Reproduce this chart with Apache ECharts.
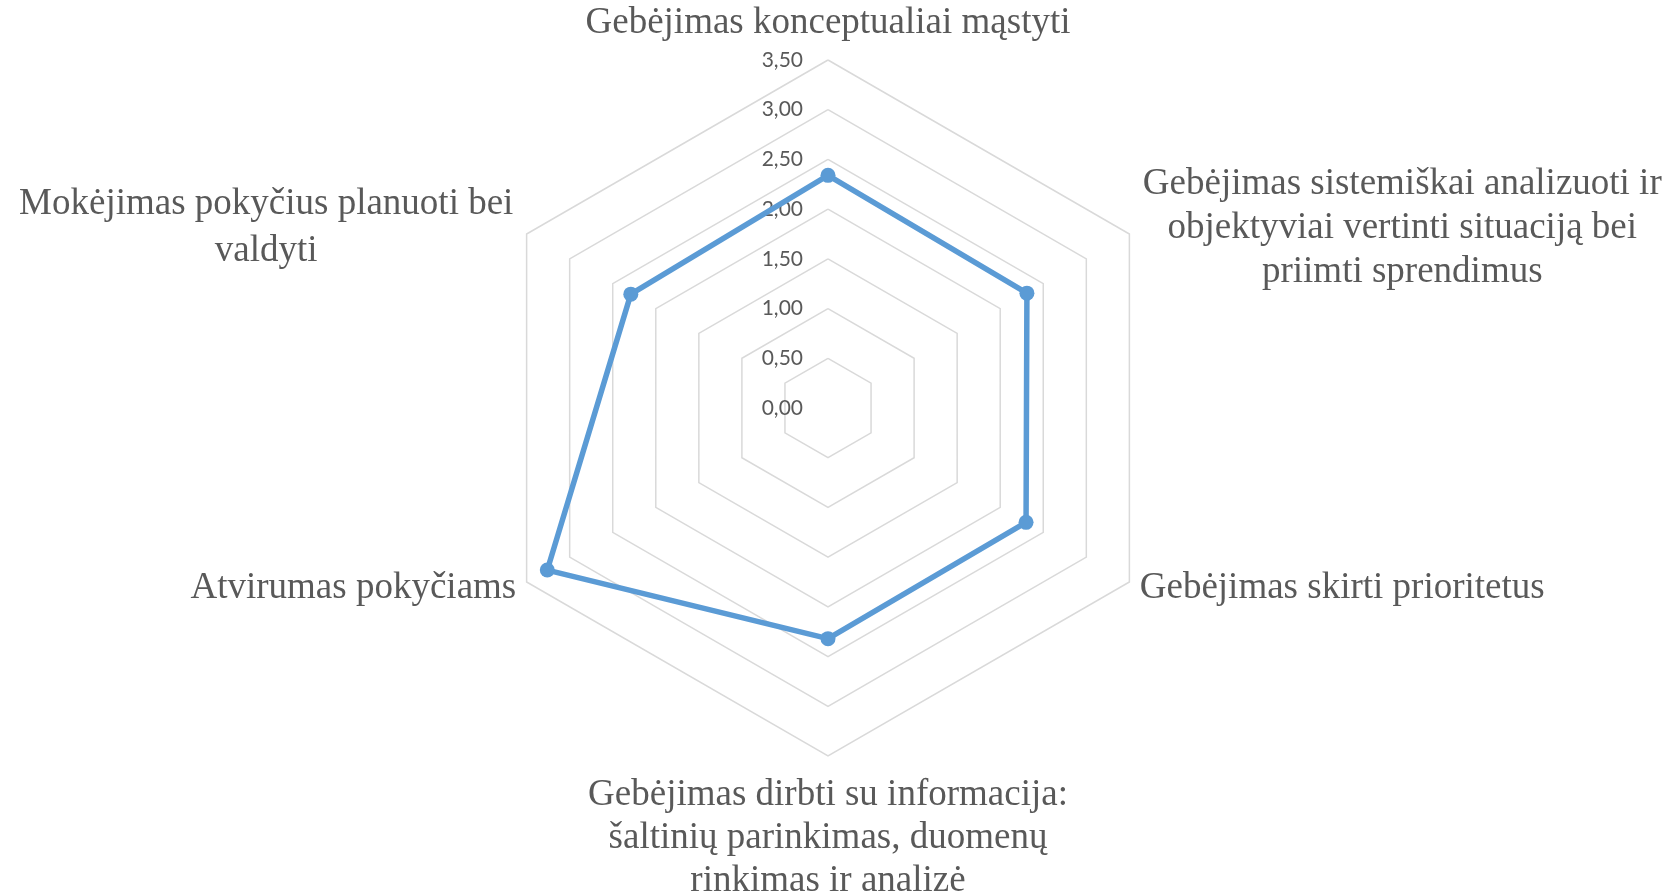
<!DOCTYPE html>
<html>
<head>
<meta charset="utf-8">
<script src="https://cdn.jsdelivr.net/npm/echarts@6/dist/echarts.min.js"></script>
<style>
html,body{margin:0;padding:0;background:#fff;}
#chart{width:1675px;height:893px;}
</style>
</head>
<body>
<div id="chart"></div>
<script>
// Categories in the reference's clockwise order, starting at the top
const categories = [
  'Gebėjimas konceptualiai mąstyti',
  'Gebėjimas sistemiškai analizuoti ir\nobjektyviai vertinti situaciją bei\npriimti sprendimus',
  'Gebėjimas skirti prioritetus',
  'Gebėjimas dirbti su informacija:\nšaltinių parinkimas, duomenų\nrinkimas ir analizė',
  'Atvirumas pokyčiams',
  'Mokėjimas pokyčius planuoti bei\nvaldyti'
];
const values = [2.34, 2.31, 2.30, 2.32, 3.26, 2.29];
const axisMax = 3.5;
const axisSplit = 7;

// ECharts places indicators counter-clockwise; reorder so the picture goes clockwise
const order = [0, 5, 4, 3, 2, 1];
const indicator = order.map(function (i) {
  const ind = { name: categories[i], min: 0, max: axisMax };
  if (i === 0) {
    ind.axisLabel = { show: true };
    ind.nameGap = 15;
  }
  if (i === 3) ind.nameGap = 18;
  return ind;
});
const seriesData = order.map(function (i) { return values[i]; });

const chart = echarts.init(document.getElementById('chart'), null, { renderer: 'canvas' });
chart.setOption({
  backgroundColor: '#ffffff',
  animation: false,
  radar: {
    center: [828, 408],
    radius: 348,
    startAngle: 90,
    shape: 'polygon',
    splitNumber: axisSplit,
    nameGap: 12,
    indicator: indicator,
    axisName: {
      color: '#595959',
      fontFamily: 'Liberation Serif',
      fontSize: 37,
      lineHeight: 43,
      formatter: function (name) {
        const idx = categories.indexOf(name);
        if (idx === 1 || idx === 5) {
          const key = idx === 1 ? 'r' : 'l';
          return name.split('\n').map(function (l) { return '{' + key + '|' + l + '}'; }).join('\n');
        }
        return name;
      },
      rich: {
        r: { width: 525, align: 'center', color: '#595959', fontFamily: 'Liberation Serif', fontSize: 37, lineHeight: 44 },
        l: { width: 500, align: 'center', color: '#595959', fontFamily: 'Liberation Serif', fontSize: 37, lineHeight: 47 }
      }
    },
    axisLine: { show: false },
    axisTick: { show: false },
    axisLabel: {
      show: false,
      color: '#595959',
      fontFamily: 'Lato',
      fontSize: 21,
      margin: 25,
      formatter: function (v) { return Number(v).toFixed(2).replace('.', ','); }
    },
    splitLine: { lineStyle: { color: '#d9d9d9', width: 1.5 } },
    splitArea: { show: false }
  },
  series: [{
    type: 'radar',
    symbol: 'circle',
    symbolSize: 15,
    lineStyle: { color: '#5b9bd5', width: 5.5 },
    itemStyle: { color: '#5b9bd5' },
    data: [{ value: seriesData }]
  }]
});
</script>
</body>
</html>
